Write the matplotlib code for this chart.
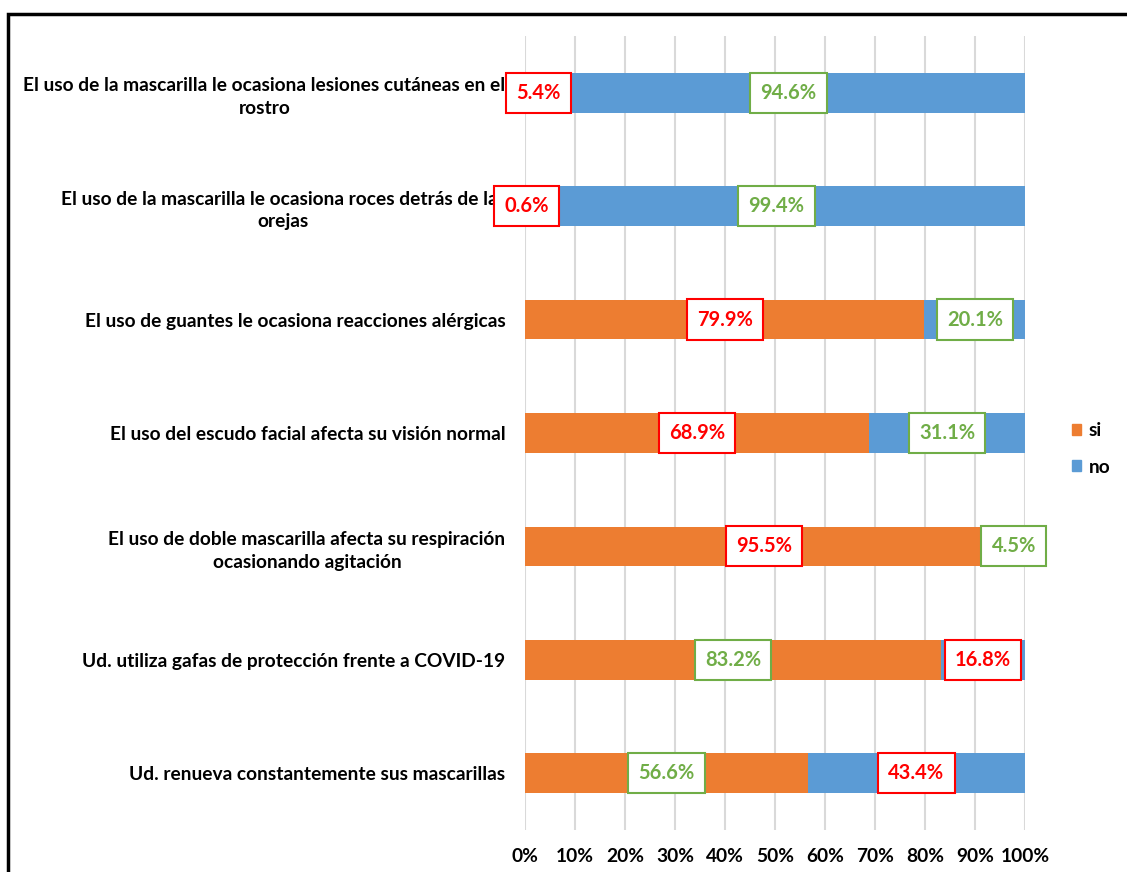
import matplotlib.pyplot as plt
from matplotlib.patches import Rectangle
from matplotlib.ticker import PercentFormatter

plt.rcParams['font.family'] = ['Lato', 'DejaVu Sans']

categories = [
    'El uso de la mascarilla le ocasiona lesiones cutáneas en el\nrostro',
    'El uso de la mascarilla le ocasiona roces detrás de las\norejas',
    'El uso de guantes le ocasiona reacciones alérgicas',
    'El uso del escudo facial afecta su visión normal',
    'El uso de doble mascarilla afecta su respiración\nocasionando agitación',
    'Ud. utiliza gafas de protección frente a COVID-19',
    'Ud. renueva constantemente sus mascarillas',
]
si = [5.4, 0.6, 79.9, 68.9, 95.5, 83.2, 56.6]
no = [94.6, 99.4, 20.1, 31.1, 4.5, 16.8, 43.4]

# Colors
orange = '#ED7D31'
blue = '#5B9BD5'
red = '#FF0000'
green = '#70AD47'
si_box = [red, red, red, red, red, green, green]
no_box = [green, green, green, green, green, red, red]

fig = plt.figure(figsize=(11.27, 8.72), dpi=100)
ax = fig.add_axes([0.4658, 0.0482, 0.4437, 0.9105])

y = list(range(len(categories)))
h = 0.35
ax.barh(y, si, height=h, color=orange, label='si', zorder=2)
ax.barh(y, no, left=si, height=h, color=blue, label='no', zorder=2)

for i in y:
    for val, start, col in ((si[i], 0, si_box[i]), (no[i], si[i], no_box[i])):
        ax.text(start + val / 2, i, f'{val:.1f}%', ha='center', va='center',
                fontsize=14.5, fontweight='bold', color=col, zorder=4,
                bbox=dict(boxstyle='square,pad=0.5', facecolor='white',
                          edgecolor=col, linewidth=1.5))

ax.set_xlim(0, 100)
ax.set_ylim(len(categories) - 0.5, -0.5)
ax.set_xticks(range(0, 101, 10))
ax.xaxis.set_major_formatter(PercentFormatter(decimals=0))
ax.set_yticks(y)
ax.set_yticklabels(categories, multialignment='center', linespacing=1.4)
ax.tick_params(axis='y', length=0, pad=14, labelsize=13.8)
ax.tick_params(axis='x', length=0, pad=13, labelsize=13.8)
for lab in ax.get_yticklabels() + ax.get_xticklabels():
    lab.set_fontweight('bold')
ax.grid(axis='x', color='#D9D9D9', linewidth=1.5, zorder=0)
ax.grid(axis='y', visible=False)
for s in ax.spines.values():
    s.set_visible(False)

handles = [Rectangle((0, 0), 1, 1, color=orange), Rectangle((0, 0), 1, 1, color=blue)]
fig.legend(handles, ['si', 'no'], loc='center left', bbox_to_anchor=(0.951, 0.485),
           frameon=False, handlelength=0.5, handleheight=0.5, handletextpad=0.4,
           labelspacing=1.0, borderpad=0, borderaxespad=0,
           prop={'weight': 'bold', 'size': 13.8})

# figure border
fig.add_artist(Rectangle((0.007, -0.05), 1.1, 1.034, transform=fig.transFigure,
                         fill=False, edgecolor='black', linewidth=2.5))

fig.savefig('out.png', dpi=100, facecolor='white')
